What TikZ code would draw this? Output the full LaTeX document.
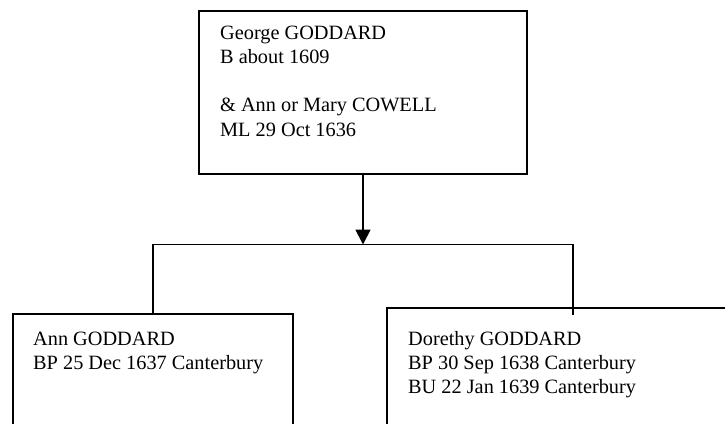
\documentclass[tikz,border=0pt]{standalone}
\usepackage{fontspec}
\setmainfont{Liberation Serif}
\usetikzlibrary{arrows.meta,calc}
\tikzset{
  box/.style={draw=black, line width=2pt, rectangle, inner sep=0pt, anchor=north west},
  txt/.style={inner sep=0pt, anchor=base west, font=\fontsize{20.3}{24.3}\selectfont},
  link/.style={draw=black, line width=1.8pt},
}
\begin{document}
\begin{tikzpicture}[x=1pt, y=-1pt]
\fill[white] (0,0) rectangle (725,423);
\clip (0,0) rectangle (725,423);
% boxes
\node[box, minimum width=328pt, minimum height=162.5pt] (top) at (198,10) {};
\node[box, minimum width=280pt, minimum height=140pt] (ann) at (12,313) {};
\node[box, minimum width=372pt, minimum height=140pt] (dor) at (386,307) {};
% texts
\node[txt] (toptxt) at ($(top.north west)+(22,29)$) {\parbox[t]{310pt}{George GODDARD\\B about 1609\\[24.3pt]\& Ann or Mary COWELL\\ML 29 Oct 1636}};
\node[txt] (anntxt) at ($(ann.north west)+(21,32)$) {\parbox[t]{260pt}{Ann GODDARD\\BP 25 Dec 1637 Canterbury}};
\node[txt] (dortxt) at ($(dor.north west)+(22,38)$) {\parbox[t]{330pt}{Dorethy GODDARD\\BP 30 Sep 1638 Canterbury\\BU 22 Jan 1639 Canterbury}};
% connectors
\coordinate (busy) at (0,244.5);
\coordinate (bus) at (top.south |- busy);
\draw[link, -{Triangle[width=15pt,length=15pt]}] (top.south) -- (bus);
\draw[link] (ann.north) -- (ann.north |- bus) -- (dor.north |- bus) -- ($(dor.north)+(0,7.5)$);
\end{tikzpicture}
\end{document}
